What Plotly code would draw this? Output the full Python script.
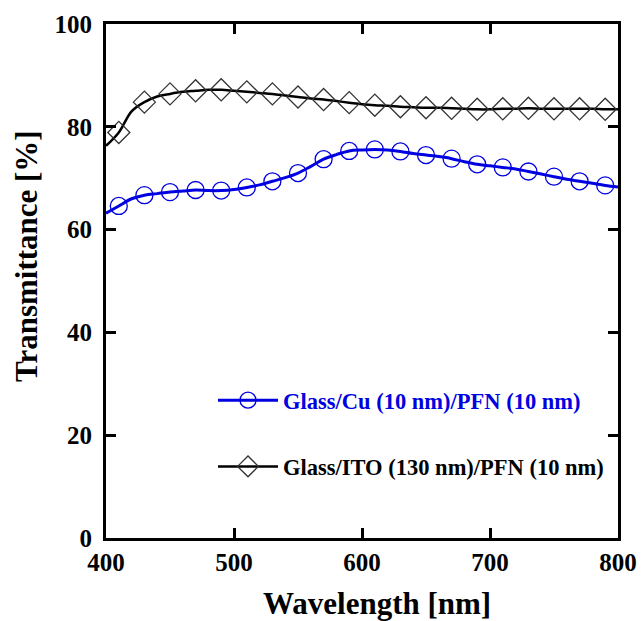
import plotly.graph_objects as go

wavelength = list(range(400, 801, 10))
cu_pfn = [63.2, 64.6, 66.0, 66.7, 67.0, 67.3, 67.5, 67.7, 67.6, 67.6, 67.8,
          68.2, 68.7, 69.4, 70.1, 71.0, 72.3, 73.7, 74.6, 75.3, 75.5,
          75.6, 75.5, 75.2, 74.8, 74.5, 74.2, 73.8, 73.2, 72.7, 72.4,
          72.1, 71.8, 71.3, 70.8, 70.3, 69.8, 69.4, 69.0, 68.6, 68.3]
ito_pfn = [76.3, 78.9, 83.0, 84.8, 85.9, 86.4, 86.8, 87.0, 87.2, 87.2, 87.0,
           86.8, 86.6, 86.4, 86.1, 85.8, 85.5, 85.3, 85.0, 84.7, 84.4,
           84.2, 84.1, 83.9, 83.8, 83.7, 83.7, 83.6, 83.5, 83.4, 83.4,
           83.5, 83.5, 83.6, 83.5, 83.5, 83.5, 83.5, 83.5, 83.4, 83.4]
marker_wavelength = list(range(410, 800, 20))

names = ["Glass/Cu (10 nm)/PFN (10 nm)", "Glass/ITO (130 nm)/PFN (10 nm)"]
x_ticks = [400, 500, 600, 700, 800]
y_ticks = [0, 20, 40, 60, 80, 100]

BLUE = "#0000E0"
BLACK = "#000000"
FONT = "Liberation Serif"

def pick(vals):
    return [v for w, v in zip(wavelength, vals) if w in marker_wavelength]

fig = go.Figure()
series = [
    (cu_pfn, BLUE, "circle-open", BLUE, 3, "a"),
    (ito_pfn, BLACK, "diamond-open", "#333333", 2.5, "b"),
]
for (vals, col, sym, mcol, lw, grp), name in zip(series, names):
    fig.add_trace(go.Scatter(x=wavelength, y=vals, mode="lines",
                             line=dict(color=col, width=lw, shape="spline"),
                             showlegend=False, hoverinfo="skip"))
    fig.add_trace(go.Scatter(x=marker_wavelength, y=pick(vals), mode="markers",
                             marker=dict(symbol=sym, size=17, color=mcol,
                                         line=dict(width=1.3, color=mcol)),
                             showlegend=False))
    label = name if col == BLACK else f"<span style='color:{BLUE}'>{name}</span>"
    fig.add_trace(go.Scatter(x=[None], y=[None], mode="lines+markers", name=label,
                             legendgroup=grp,
                             line=dict(color=col, width=lw),
                             marker=dict(symbol=sym, size=16, color=mcol,
                                         line=dict(width=1.3, color=mcol))))

axis_common = dict(showline=True, linewidth=3, linecolor="black", mirror="ticks",
                   ticks="inside", ticklen=10, tickwidth=3, tickcolor="black",
                   showgrid=False, zeroline=False, automargin=False,
                   tickfont=dict(family=FONT, size=25, color="black", weight="bold"))

fig.update_xaxes(range=[400, 800], tickvals=x_ticks, ticktext=[str(t) for t in x_ticks],
                 ticklabelstandoff=0, **axis_common)
fig.update_yaxes(range=[0, 100], tickvals=y_ticks, ticktext=[str(t) for t in y_ticks],
                 ticklabelstandoff=6, **axis_common)

fig.add_annotation(text="<b>Wavelength [nm]</b>", xref="paper", yref="paper",
                   x=(377 - 106) / 512, y=(538 - 603) / 514, showarrow=False,
                   xanchor="center", yanchor="middle",
                   font=dict(family=FONT, size=31, color="black"))
fig.add_annotation(text="<b>Transmittance [%]</b>", xref="paper", yref="paper",
                   x=(27 - 106) / 512, y=(538 - 256) / 514, showarrow=False, textangle=-90,
                   xanchor="center", yanchor="middle",
                   font=dict(family=FONT, size=31, color="black"))

fig.update_layout(
    template="none",
    width=641, height=621,
    margin=dict(l=106, r=23, t=24, b=83, autoexpand=False),
    plot_bgcolor="white", paper_bgcolor="white",
    showlegend=True,
    legend=dict(x=(213 - 106) / 512, y=(538 - 379) / 514, xanchor="left", yanchor="top",
                bgcolor="rgba(0,0,0,0)", tracegroupgap=34,
                font=dict(family=FONT, size=22.5, color="black", weight="bold"),
                itemwidth=60),
)

fig.write_html("out.html", config={"displayModeBar": False},
               post_script="document.body.style.margin='0';document.body.style.overflow='hidden';")
